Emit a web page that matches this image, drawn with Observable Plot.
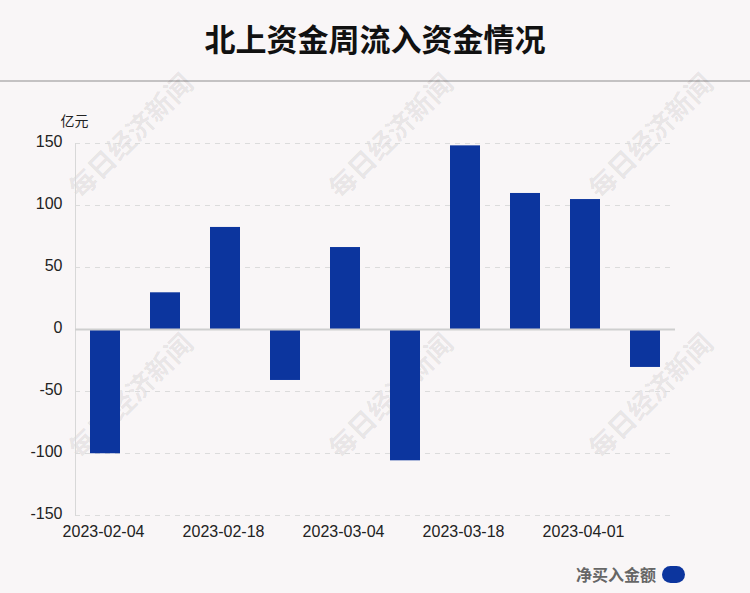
<!DOCTYPE html>
<html><head><meta charset="utf-8">
<script src="https://cdn.jsdelivr.net/npm/d3@7"></script>
<script src="https://cdn.jsdelivr.net/npm/@observablehq/plot@0.6"></script>
<style>
html,body{margin:0;padding:0;background:#f9f6f7;}
#page{position:relative;width:750px;height:593px;background:#f9f6f7;overflow:hidden;font-family:"Liberation Sans",Arial,sans-serif;}
#title{position:absolute;top:0;left:0;width:750px;height:76px;line-height:76px;text-align:center;font-size:31px;font-weight:bold;color:#111;font-family:"Noto Sans CJK SC",sans-serif;}
#rule{position:absolute;top:80px;left:0;width:750px;height:2px;background:#c4c2c3;}
#chart{position:absolute;top:82px;left:0;}
.wm{position:absolute;width:180px;height:30px;line-height:30px;text-align:center;font-size:27px;font-weight:bold;color:rgba(0,0,0,0.085);font-family:"Noto Sans CJK SC",sans-serif;transform:rotate(-45deg);white-space:nowrap;}
#legend{position:absolute;top:562px;left:576px;height:24px;display:flex;align-items:center;font-family:"Noto Sans CJK SC",sans-serif;font-size:16px;font-weight:bold;color:#666;}
#legend .sw{width:23px;height:17px;border-radius:8.5px;background:#0c359e;margin-left:6px;}
</style></head>
<body>
<div id="page">
  <div id="title">北上资金周流入资金情况</div>
  <div id="rule"></div>
  <div id="wms"></div>
  <div id="chart"></div>
  <div id="legend"><span>净买入金额</span><div class="sw"></div></div>
</div>
<script>
const weeks = ["2023-02-04","2023-02-11","2023-02-18","2023-02-25","2023-03-04","2023-03-11","2023-03-18","2023-03-25","2023-04-01","2023-04-08"];
const netBuy = [-100.2, 29.6, 82.3, -41.1, 66.1, -105.9, 148.1, 109.7, 104.8, -30.6];
const tickLabels = ["2023-02-04","2023-02-18","2023-03-04","2023-03-18","2023-04-01"];
const yTicks = [-150, -100, -50, 0, 50, 100, 150];
const unitLabel = "亿元";
const watermark = "每日经济新闻";

const data = weeks.map((w, i) => ({week: w, value: netBuy[i]}));

// watermarks (decoration, behind the chart)
const wmCenters = [[130,135],[390,135],[650,135],[130,395],[390,395],[650,395]];
const wms = document.getElementById("wms");
for (const [cx, cy] of wmCenters) {
  const d = document.createElement("div");
  d.className = "wm";
  d.textContent = watermark;
  d.style.left = (cx - 90) + "px";
  d.style.top = (cy - 15) + "px";
  wms.appendChild(d);
}

const chart = Plot.plot({
  width: 750,
  height: 463,
  marginTop: 61,
  marginBottom: 30,
  marginLeft: 75,
  marginRight: 75,
  style: {background: "transparent", fontFamily: "'Liberation Sans', Arial, sans-serif", fontSize: "16px", color: "#222", overflow: "visible"},
  x: {type: "band", domain: weeks, paddingInner: 0.5, paddingOuter: 0.25, align: 0.5, ticks: tickLabels, tickSize: 0, tickPadding: 10, label: null},
  y: {domain: [-150, 150], ticks: yTicks, tickSize: 0, tickPadding: 13, label: null, tickFormat: d => String(d)},
  marks: [
    Plot.gridY(yTicks.filter(d => d !== 0), {stroke: "#dcdcdc", strokeOpacity: 1, strokeDasharray: "5,5"}),
    Plot.frame({anchor: "left", stroke: "#d8d8d8", strokeOpacity: 1}),
    Plot.barY(data, {x: "week", y: "value", fill: "#0c359e"}),
    Plot.ruleY([0], {stroke: "#cfcfcf", strokeWidth: 2}),
    Plot.axisY({ticks: yTicks, tickSize: 0, tickPadding: 13, tickFormat: d => String(d), dy: -2, label: null}),
    Plot.axisX({ticks: tickLabels, tickSize: 0, tickPadding: 10, dx: -2, label: null}),
    Plot.text([unitLabel], {frameAnchor: "top-left", text: d => d, dx: -1, dy: -22, lineAnchor: "middle", fontSize: 14, fill: "#222", textAnchor: "middle", fontFamily: "'Noto Sans CJK SC', sans-serif"})
  ]
});
document.getElementById("chart").appendChild(chart);
</script>
</body></html>
